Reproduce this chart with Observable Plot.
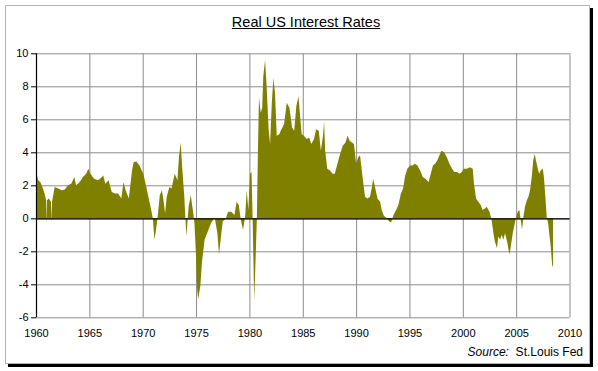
<!DOCTYPE html>
<html>
<head>
<meta charset="utf-8">
<script src="https://cdn.jsdelivr.net/npm/d3@7"></script>
<script src="https://cdn.jsdelivr.net/npm/@observablehq/plot@0.6"></script>
<style>
  html, body { margin: 0; padding: 0; background: #fff; }
  #wrap { position: relative; width: 598px; height: 371px; overflow: hidden; font-family: "Liberation Sans", Arial, sans-serif; }
  #frame { position: absolute; left: 5px; top: 5px; width: 583px; height: 357px; border: 1px solid #b4b4b4; box-shadow: 3px 3px 0 #000; background: #fff; }
  #title { position: absolute; left: 0; width: 612px; top: 14px; text-align: center; font-size: 14.5px; text-decoration: underline; color: #000; }
  #source { position: absolute; right: 15px; top: 345px; font-size: 12px; color: #000; }
  #chart { position: absolute; left: 0; top: 0; }
</style>
</head>
<body>
<div id="wrap">
  <div id="frame"></div>
  <div id="chart"></div>
  <div id="title">Real US Interest Rates</div>
  <div id="source"><i>Source:</i>&nbsp; St.Louis Fed</div>
</div>
<script>
const years = [
  1960.0,1960.2,1960.4,1960.6,1960.8,1960.95,1960.99,1961.03,1961.2,1961.4,1961.45,1961.5,1961.75,
  1962.1,1962.4,1962.7,1963.0,1963.3,1963.6,1963.75,1964.1,1964.4,1964.7,1964.9,1965.1,1965.45,1965.8,
  1966.0,1966.3,1966.5,1966.8,1967.1,1967.4,1967.7,1968.0,1968.2,1968.4,1968.7,1969.0,1969.15,1969.4,
  1969.7,1969.9,1970.06,1970.4,1970.7,1970.95,1971.1,1971.25,1971.4,1971.6,1971.8,1971.95,1972.1,
  1972.25,1972.5,1972.7,1973.0,1973.25,1973.4,1973.56,1973.7,1973.9,1974.0,1974.1,1974.3,1974.5,
  1974.7,1974.85,1975.0,1975.1,1975.2,1975.4,1975.55,1975.8,1976.1,1976.4,1976.75,1977.0,1977.15,
  1977.3,1977.5,1977.8,1978.0,1978.3,1978.6,1978.8,1979.0,1979.2,1979.4,1979.6,1979.75,1979.9,
  1980.06,1980.2,1980.3,1980.45,1980.56,1980.7,1980.8,1980.9,1981.06,1981.2,1981.3,1981.47,1981.6,
  1981.8,1981.94,1982.1,1982.25,1982.4,1982.56,1982.8,1983.0,1983.25,1983.5,1983.75,1984.0,1984.2,
  1984.4,1984.6,1984.75,1984.9,1985.1,1985.37,1985.6,1985.8,1986.06,1986.25,1986.5,1986.7,1986.9,
  1987.0,1987.1,1987.3,1987.56,1987.8,1988.0,1988.25,1988.5,1988.75,1989.0,1989.2,1989.4,1989.6,
  1989.8,1990.0,1990.2,1990.37,1990.5,1990.7,1990.84,1991.05,1991.3,1991.46,1991.6,1991.77,1992.0,
  1992.25,1992.4,1992.6,1992.87,1993.1,1993.28,1993.5,1993.75,1993.96,1994.2,1994.4,1994.6,1994.8,
  1995.06,1995.3,1995.5,1995.75,1996.0,1996.25,1996.5,1996.8,1997.0,1997.2,1997.4,1997.6,1997.8,
  1998.0,1998.25,1998.5,1998.75,1999.0,1999.2,1999.45,1999.7,1999.9,2000.1,2000.37,2000.68,2000.93,
  2001.05,2001.24,2001.45,2001.68,2001.86,2002.08,2002.24,2002.5,2002.7,2002.87,2003.0,2003.2,
  2003.33,2003.5,2003.65,2003.8,2003.96,2004.18,2004.37,2004.5,2004.68,2004.84,2005.0,2005.15,
  2005.3,2005.43,2005.55,2005.68,2005.83,2006.0,2006.15,2006.3,2006.46,2006.6,2006.74,2006.86,
  2007.0,2007.15,2007.3,2007.5,2007.6,2007.74,2007.86,2008.0,2008.1,2008.24,2008.37,2008.46
];
const rates = [
  2.9,2.3,2.2,1.9,1.5,1.1,-0.3,1.1,1.2,1.0,-0.2,1.0,1.9,
  1.8,1.7,1.75,2.0,2.1,2.5,2.0,2.2,2.5,2.7,3.0,2.7,2.4,2.3,
  2.4,2.6,2.1,2.3,1.6,1.5,1.5,1.2,2.2,1.7,1.2,2.9,3.4,3.45,
  3.2,2.9,2.7,1.7,0.8,0.0,-1.3,-0.7,0.1,1.4,1.7,1.1,0.3,
  1.3,1.9,1.8,2.7,2.3,3.7,4.6,3.1,1.3,0.0,-1.1,0.7,1.4,
  0.5,-0.3,-2.3,-4.3,-4.9,-4.1,-2.7,-1.3,-0.8,-0.3,0.05,-0.9,-2.2,
  -1.3,-0.2,0.0,0.4,0.4,0.2,1.0,0.8,-0.1,-0.7,0.1,1.7,0.5,
  2.7,2.8,0.1,-5.0,-2.9,0.0,4.1,7.3,6.4,6.7,8.6,9.6,8.2,
  5.4,4.5,7.0,8.5,7.6,5.0,5.1,5.4,5.7,7.0,6.7,5.5,5.3,
  6.8,7.4,6.2,5.1,5.0,4.8,4.9,4.5,4.8,5.4,5.3,4.1,5.0,
  5.9,4.1,3.0,2.9,2.7,2.7,3.3,3.9,4.4,4.6,5.0,4.7,4.6,
  4.5,3.3,3.7,3.8,3.1,2.0,1.3,1.2,1.3,1.8,2.4,1.9,1.2,
  1.0,0.5,0.15,0.0,-0.2,-0.25,0.2,0.5,0.8,1.5,1.8,2.6,3.0,
  3.2,3.2,3.3,3.2,2.9,2.5,2.4,2.2,2.7,3.2,3.3,3.5,3.8,
  4.1,4.0,3.7,3.3,3.0,2.8,2.8,2.7,2.8,3.0,3.0,3.1,3.0,
  2.1,1.2,1.0,0.8,0.5,0.6,0.7,0.4,-0.1,-0.9,-1.4,-1.8,
  -1.1,-1.3,-1.0,-1.3,-0.9,-1.5,-2.2,-1.7,-0.9,-0.4,0.1,0.4,
  0.5,-0.1,-0.7,0.1,0.7,1.1,1.3,1.7,2.5,3.5,3.9,3.5,
  3.1,2.7,2.9,3.0,2.5,1.3,0.1,-0.3,-0.9,-1.7,-2.8,-3.0
];
const xTicks = [1960,1965,1970,1975,1980,1985,1990,1995,2000,2005,2010];
const yTicks = [-6,-4,-2,0,2,4,6,8,10];

const data = years.map((y, i) => ({year: y, value: rates[i]}));

const chart = Plot.plot({
  width: 598,
  height: 371,
  marginLeft: 36,
  marginRight: 28.5,
  marginTop: 53.3,
  marginBottom: 53.7,
  style: {background: "transparent", overflow: "visible", fontFamily: "'Liberation Sans', Arial, sans-serif", fontSize: "11px", color: "#000"},
  x: {domain: [1960, 2010], label: null},
  y: {domain: [-6, 10], label: null},
  marks: [
    Plot.gridX(xTicks, {stroke: "#8c8c8c", strokeOpacity: 1}),
    Plot.gridY(yTicks, {stroke: "#8c8c8c", strokeOpacity: 1}),
    Plot.areaY(data, {x: "year", y: "value", fill: "#808000"}),
    Plot.ruleY([0], {stroke: "#000", strokeWidth: 1.2}),
    Plot.ruleX([1960], {stroke: "#000", strokeWidth: 1.2}),
    Plot.axisY({ticks: yTicks, tickSize: 5, tickPadding: 3, tickFormat: d => String(d), fontSize: 11, stroke: "#000"}),
    Plot.axisX({ticks: xTicks, tickSize: 0, tickPadding: 11, tickFormat: d => String(d), fontSize: 11})
  ]
});
document.getElementById("chart").appendChild(chart);
</script>
</body>
</html>
